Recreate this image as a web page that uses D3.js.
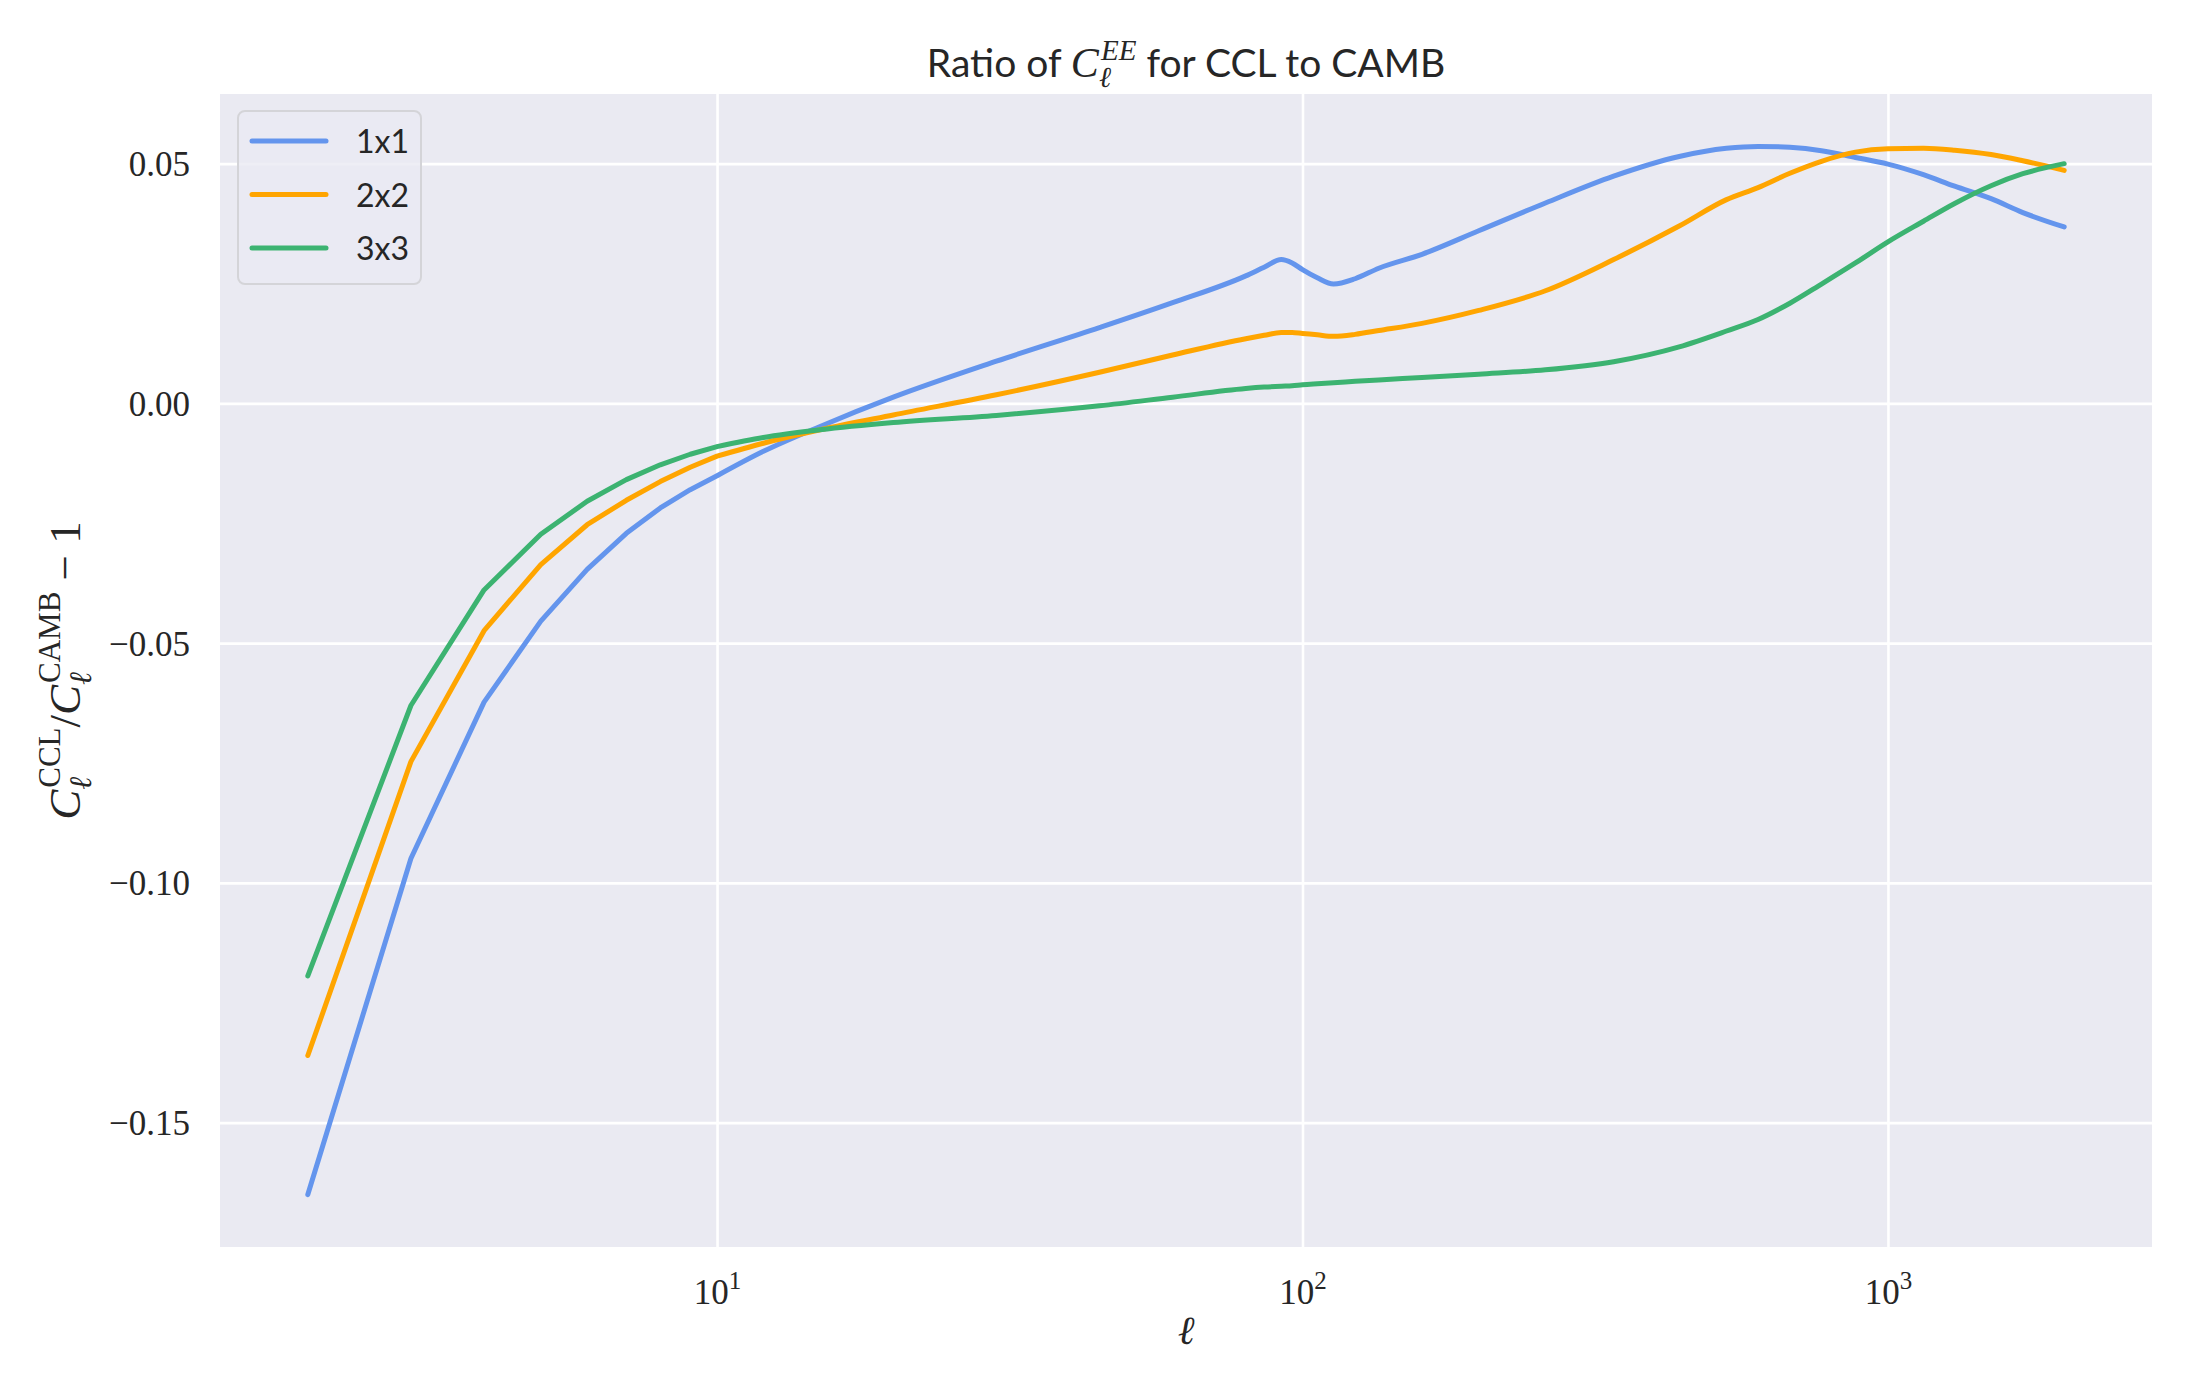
<!DOCTYPE html>
<html>
<head>
<meta charset="utf-8">
<script src="https://cdn.jsdelivr.net/npm/d3@7"></script>
<style>
  body { margin: 0; background: #ffffff; }
</style>
</head>
<body>
<script>
// multipoles and ratio values
var ells = [2,3,4,5,6,7,8,9,10,12,15,20,30,45,60,80,86,92,96,100,106,113,123,135,160,200,260,340,440,530,600,680,770,880,1000,1150,1300,1500,1700,2000];

var ratio1x1 = [-0.1650,-0.0949,-0.0623,-0.0454,-0.0346,-0.0271,-0.0218,-0.0180,-0.0151,-0.0100,-0.0048,0.0013,0.0088,0.0158,0.0210,0.0266,0.0284,0.0300,0.0293,0.0279,0.0262,0.0249,0.0260,0.0282,0.0311,0.0360,0.0418,0.0474,0.0515,0.0532,0.0536,0.0534,0.0527,0.0513,0.0499,0.0477,0.0453,0.0427,0.0398,0.0368];

var ratio2x2 = [-0.1360,-0.0747,-0.0474,-0.0336,-0.0253,-0.0202,-0.0163,-0.0133,-0.0110,-0.0083,-0.0055,-0.0024,0.0018,0.0065,0.0101,0.0135,0.0142,0.0148,0.0148,0.0146,0.0143,0.0140,0.0144,0.0152,0.0167,0.0194,0.0235,0.0300,0.0370,0.0425,0.0450,0.0480,0.0505,0.0524,0.0531,0.0532,0.0528,0.0519,0.0506,0.0486];

var ratio3x3 = [-0.1194,-0.0630,-0.0389,-0.0273,-0.0204,-0.0159,-0.0128,-0.0106,-0.0090,-0.0071,-0.0055,-0.0040,-0.0025,-0.0005,0.0013,0.0031,0.0034,0.0036,0.0037,0.0039,0.0041,0.0043,0.0046,0.0049,0.0054,0.0061,0.0070,0.0087,0.0118,0.0151,0.0175,0.0209,0.0249,0.0293,0.0337,0.0380,0.0417,0.0454,0.0479,0.0500];

var seriesNames = ["1x1", "2x2", "3x3"];
var seriesColors = ["#6495ED", "#FFA500", "#3CB371"];
var yTicks = [-0.15, -0.10, -0.05, 0.00, 0.05];
var xTicks = [10, 100, 1000];

var width = 2200;
var height = 1400;
var plotLeft = 220, plotRight = 2152, plotTop = 94, plotBottom = 1247;
var textColor = "#262626";
var mathFont = "'Liberation Serif', 'DejaVu Serif', serif";
var sansFont = "Lato, 'Open Sans', sans-serif";

var series = [ratio1x1, ratio2x2, ratio3x3].map(function(vals, i)
{
	return {
		name: seriesNames[i],
		color: seriesColors[i],
		points: vals.map(function(v, j) { return [ells[j], v]; })
	};
});

// matplotlib style 5% margins (log space for x)
var lx = d3.extent(ells).map(Math.log10);
var padX = (lx[1] - lx[0]) * 0.05;
var allVals = ratio1x1.concat(ratio2x2, ratio3x3);
var ey = d3.extent(allVals);
var padY = (ey[1] - ey[0]) * 0.05;

var x_scale = d3.scaleLog()
	.domain([Math.pow(10, lx[0] - padX), Math.pow(10, lx[1] + padX)])
	.range([plotLeft, plotRight]);

var y_scale = d3.scaleLinear()
	.domain([ey[0] - padY, ey[1] + padY])
	.range([plotBottom, plotTop]);

var svg = d3.select("body")
	.append("svg")
	.attr("width", width)
	.attr("height", height);

svg.append("rect")
	.attr("x", plotLeft)
	.attr("y", plotTop)
	.attr("width", plotRight - plotLeft)
	.attr("height", plotBottom - plotTop)
	.attr("fill", "#EAEAF2");

// y axis with gridlines
var y_axis = d3.axisLeft(y_scale)
	.tickValues(yTicks)
	.tickSize(-(plotRight - plotLeft))
	.tickPadding(30)
	.tickFormat(d3.format(".2f"));

var gy = svg.append("g")
	.attr("transform", "translate(" + plotLeft + ",0)")
	.call(y_axis);
gy.select(".domain").remove();
gy.selectAll(".tick line").attr("stroke", "#ffffff").attr("stroke-width", 2.6);
gy.selectAll(".tick text")
	.attr("fill", textColor)
	.attr("font-family", mathFont)
	.attr("font-size", 35)
	.attr("dy", "0.34em");

// x axis with gridlines
var x_axis = d3.axisBottom(x_scale)
	.tickValues(xTicks)
	.tickSize(-(plotBottom - plotTop))
	.tickPadding(10);

var gx = svg.append("g")
	.attr("transform", "translate(0," + plotBottom + ")")
	.call(x_axis);
gx.select(".domain").remove();
gx.selectAll(".tick line").attr("stroke", "#ffffff").attr("stroke-width", 2.6);
gx.selectAll(".tick text").each(function(d)
{
	var t = d3.select(this);
	t.text(null)
		.attr("y", 57)
		.attr("dy", null)
		.attr("fill", textColor)
		.attr("font-family", mathFont)
		.attr("font-size", 35)
		.attr("text-anchor", "middle");
	t.append("tspan").text("10");
	t.append("tspan")
		.attr("font-size", 25)
		.attr("dy", -15)
		.text(Math.round(Math.log10(d)));
});

// curves: straight segments at low l (integer steps), smooth above
var lowLine = d3.line()
	.x(function(d) { return x_scale(d[0]); })
	.y(function(d) { return y_scale(d[1]); });
var highLine = d3.line()
	.curve(d3.curveMonotoneX)
	.x(function(d) { return x_scale(d[0]); })
	.y(function(d) { return y_scale(d[1]); });

svg.selectAll(".curve")
	.data(series)
	.enter()
	.append("path")
	.attr("class", "curve")
	.attr("d", function(d)
	{
		var low = d.points.filter(function(p) { return p[0] <= 10; });
		var high = d.points.filter(function(p) { return p[0] >= 10; });
		return lowLine(low) + highLine(high);
	})
	.attr("fill", "none")
	.attr("stroke", function(d) { return d.color; })
	.attr("stroke-width", 5)
	.attr("stroke-linecap", "round")
	.attr("stroke-linejoin", "round");

// legend
var legend = svg.append("g");
legend.append("rect")
	.attr("x", 238)
	.attr("y", 111)
	.attr("width", 183)
	.attr("height", 173)
	.attr("rx", 7)
	.attr("fill", "#EAEAF2")
	.attr("fill-opacity", 0.8)
	.attr("stroke", "#d4d4d8")
	.attr("stroke-width", 2);

var items = legend.selectAll(".item")
	.data(series)
	.enter()
	.append("g")
	.attr("transform", function(d, i) { return "translate(0," + (141 + i * 53.5) + ")"; });
items.append("line")
	.attr("x1", 252)
	.attr("x2", 326)
	.attr("stroke", function(d) { return d.color; })
	.attr("stroke-width", 5)
	.attr("stroke-linecap", "round");
items.append("text")
	.attr("x", 356)
	.attr("y", 12)
	.attr("fill", textColor)
	.attr("font-family", sansFont)
	.attr("font-size", 32)
	.text(function(d) { return d.name; });

// title
var title = svg.append("text")
	.attr("x", (plotLeft + plotRight) / 2)
	.attr("y", 77)
	.attr("text-anchor", "middle")
	.attr("fill", textColor)
	.attr("font-family", sansFont)
	.attr("font-size", 39);
title.append("tspan").text("Ratio of ");
title.append("tspan").attr("font-family", mathFont).attr("font-style", "italic").attr("font-size", 42).text("C");
title.append("tspan").attr("font-family", mathFont).attr("font-style", "italic").attr("font-size", 29).attr("dy", 10).text("ℓ");
title.append("tspan").attr("font-family", mathFont).attr("font-style", "italic").attr("font-size", 29).attr("dx", -10).attr("dy", -27).text("EE");
title.append("tspan").attr("dy", 17).text(" for CCL to CAMB");

// x label
svg.append("text")
	.attr("x", (plotLeft + plotRight) / 2)
	.attr("y", 1344)
	.attr("text-anchor", "middle")
	.attr("fill", textColor)
	.attr("font-family", mathFont)
	.attr("font-style", "italic")
	.attr("font-size", 40)
	.text("ℓ");

// y label
var ylab = svg.append("text")
	.attr("transform", "translate(80," + ((plotTop + plotBottom) / 2) + ") rotate(-90)")
	.attr("text-anchor", "middle")
	.attr("fill", textColor)
	.attr("font-family", mathFont)
	.attr("font-size", 45);
ylab.append("tspan").attr("font-style", "italic").text("C");
ylab.append("tspan").attr("font-style", "italic").attr("font-size", 31).attr("dy", 11).text("ℓ");
ylab.append("tspan").attr("font-size", 31).attr("dx", -11).attr("dy", -31).text("CCL");
ylab.append("tspan").attr("dy", 20).text("/");
ylab.append("tspan").attr("font-style", "italic").text("C");
ylab.append("tspan").attr("font-style", "italic").attr("font-size", 31).attr("dy", 11).text("ℓ");
ylab.append("tspan").attr("font-size", 31).attr("dx", -11).attr("dy", -31).text("CAMB");
ylab.append("tspan").attr("dy", 20).text(" − 1");
</script>
</body>
</html>
